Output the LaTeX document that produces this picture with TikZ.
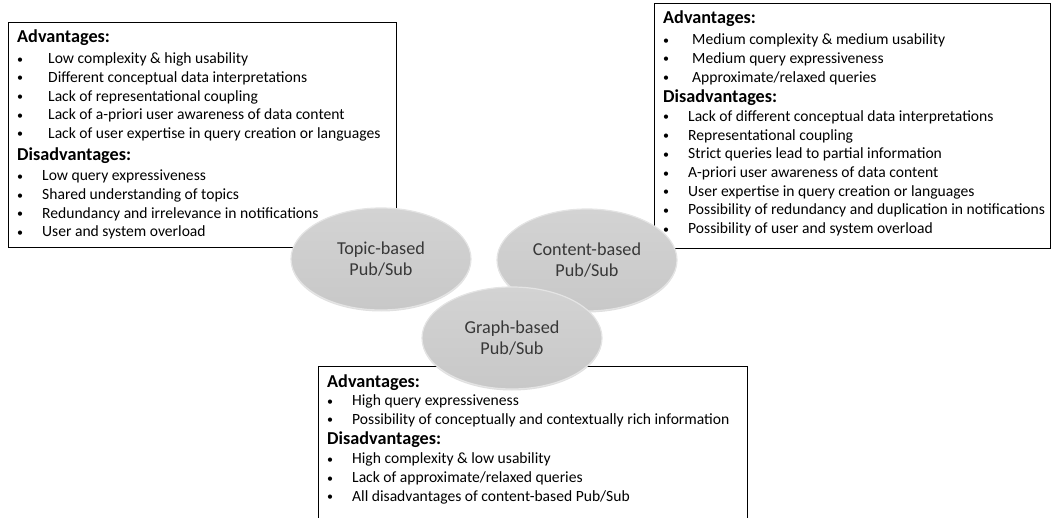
\documentclass[tikz,border=0pt]{standalone}
\usepackage{fontspec}
\setmainfont{Carlito}
\usetikzlibrary{shapes.geometric,shadows}
\definecolor{ellfill}{HTML}{C8C8C8}
\definecolor{ellrim}{HTML}{E4E4E4}
\definecolor{elltext}{HTML}{383838}
\newcommand\hdr[1]{{\fontsize{18.2}{21}\selectfont\bfseries #1}}
\newcommand\bul[2]{\makebox[#1][l]{\raisebox{0.5pt}{\fontsize{12}{12}\selectfont\textbullet}}#2}
\tikzset{
  infobox/.style={draw=black, line width=0.9pt, fill=white, inner sep=0pt, anchor=north west},
  infotext/.style={anchor=base west, inner sep=0pt, font=\fontsize{15.6}{18.7}\selectfont},
  pubsub/.style={ellipse, draw=ellrim, line width=1.2pt, top color=ellfill!80!white, bottom color=ellfill,
    minimum width=180pt, minimum height=102pt, inner sep=0pt, align=center,
    text=elltext, font=\fontsize{18.2}{21}\selectfont,
    drop shadow={shadow xshift=0pt, shadow yshift=-1.5pt, opacity=0.25}}
}
\begin{document}
\begin{tikzpicture}[x=1pt,y=-1pt]
\useasboundingbox (0,0) rectangle (1051,518);
\clip (0,0) rectangle (1051,518);
% boxes
\node[infobox, minimum width=388pt, minimum height=225pt] (lbox) at (8,22) {};
\node[infobox, minimum width=396pt, minimum height=245pt] (rbox) at (654,3) {};
\node[inner sep=0pt, anchor=north west, minimum width=429pt, minimum height=170pt, fill=white] (bbox) at (318,366) {};
\draw[black, line width=0.9pt] (bbox.south west) -- (bbox.north west) -- (bbox.north east) -- (bbox.south east);
% texts
\node[infotext] (ltext) at (17,43) {\parbox[t]{380pt}{%
\hdr{Advantages:}\\[2pt]
\bul{31pt}{Low complexity \& high usability}\\
\bul{31pt}{Different conceptual data interpretations}\\
\bul{31pt}{Lack of representational coupling}\\
\bul{31pt}{Lack of a-priori user awareness of data content}\\
\bul{31pt}{Lack of user expertise in query creation or languages}\\[3pt]
\hdr{Disadvantages:}\\[2pt]
\bul{25pt}{Low query expressiveness}\\
\bul{25pt}{Shared understanding of topics}\\
\bul{25pt}{Redundancy and irrelevance in notifications}\\
\bul{25pt}{User and system overload}}};
\node[infotext] (rtext) at (663,24) {\parbox[t]{390pt}{%
\hdr{Advantages:}\\[2pt]
\bul{29pt}{Medium complexity \& medium usability}\\
\bul{29pt}{Medium query expressiveness}\\
\bul{29pt}{Approximate/relaxed queries}\\[2pt]
\hdr{Disadvantages:}\\[0pt]
\bul{25pt}{Lack of different conceptual data interpretations}\\
\bul{25pt}{Representational coupling}\\
\bul{25pt}{Strict queries lead to partial information}\\
\bul{25pt}{A-priori user awareness of data content}\\
\bul{25pt}{User expertise in query creation or languages}\\
\bul{25pt}{Possibility of redundancy and duplication in notifications}\\
\bul{25pt}{Possibility of user and system overload}}};
\node[infotext] (btext) at (327,387) {\parbox[t]{420pt}{%
\hdr{Advantages:}\\[0pt]
\bul{25pt}{High query expressiveness}\\
\bul{25pt}{Possibility of conceptually and contextually rich information}\\[1pt]
\hdr{Disadvantages:}\\[1pt]
\bul{25pt}{High complexity \& low usability}\\
\bul{25pt}{Lack of approximate/relaxed queries}\\
\bul{25pt}{All disadvantages of content-based Pub/Sub}}};
% ellipses
\node[pubsub] (topic) at (381,259) {Topic-based\\Pub/Sub};
\node[pubsub] (content) at (587,260) {Content-based\\Pub/Sub};
\node[pubsub] (graph) at (512,338) {Graph-based\\Pub/Sub};
\end{tikzpicture}
\end{document}
